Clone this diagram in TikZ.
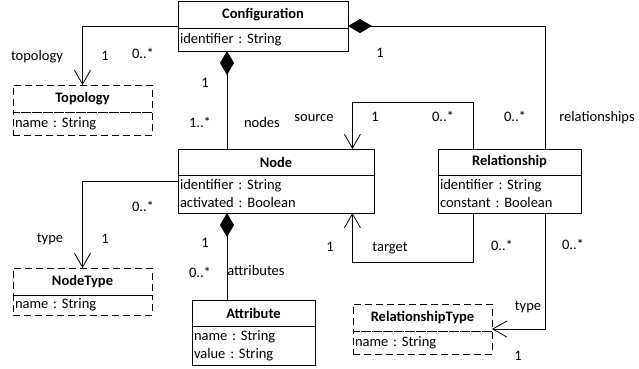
\documentclass[tikz,border=0pt]{standalone}
\usepackage{fontspec}
\setmainfont{Carlito}
\usetikzlibrary{arrows.meta,positioning,calc}

\begin{document}
\frenchspacing
\begin{tikzpicture}[x=1pt,y=-1pt,line width=0.8pt,outer sep=0pt,
    font=\fontsize{14.5}{18}\selectfont,
    title/.style={draw,anchor=north west,minimum height=27pt,inner sep=0pt,
        font=\fontsize{14.5}{18}\selectfont\bfseries},
    attrs/.style={draw,inner xsep=2pt,inner ysep=0pt,align=left},
    ghost/.style={dash pattern=on 7pt off 4pt},
    owns/.style={{Diamond[length=24pt,width=14pt]}-},
    refs/.style={-{Straight Barb[length=14pt,width=16pt]}},
    lbl/.style={anchor=base,inner sep=0pt}]
\useasboundingbox (0,0) rectangle (639,368);
%classes
\node[title,minimum width=170pt] (config) at (178,1) {Configuration};
\node[attrs,text width=166pt,minimum height=23pt,below=0pt of config] (configattr) {identifier : String};
\node[title,ghost,minimum width=139pt] (topology) at (13,85) {Topology};
\node[attrs,ghost,text width=135pt,minimum height=23pt,below=0pt of topology] (topologyattr) {name : String};
\node[title,minimum width=196pt,minimum height=26pt] (nodeclass) at (178,149) {Node};
\node[attrs,text width=192pt,minimum height=38pt,below=0pt of nodeclass] (nodeattr) {identifier : String\\activated : Boolean};
\node[title,minimum width=143pt,minimum height=26pt] (relship) at (438,149) {Relationship};
\node[attrs,text width=139pt,minimum height=38pt,below=0pt of relship] (relattr) {identifier : String\\constant : Boolean};
\node[title,ghost,minimum width=139pt] (nodetype) at (13,268) {NodeType};
\node[attrs,ghost,text width=135pt,minimum height=20pt,below=0pt of nodetype] (nodetypeattr) {name : String};
\node[title,minimum width=123pt,minimum height=26pt] (attribute) at (192,300) {Attribute};
\node[attrs,text width=119pt,minimum height=39pt,below=0pt of attribute] (attributeattr) {name : String\\value : String};
\node[title,ghost,minimum width=139pt] (reltype) at (353,304) {RelationshipType};
\node[attrs,ghost,text width=135pt,minimum height=23pt,below=0pt of reltype] (reltypeattr) {name : String};
%attachment points
\coordinate (nodetop) at ($(nodeclass.north west)!.25!(nodeclass.north east)$);
\coordinate (nodebot) at ($(nodeattr.south west)!.25!(nodeattr.south east)$);
\coordinate (nodesrc) at ($(nodeclass.north west)!.89!(nodeclass.north east)$);
\coordinate (nodetgt) at ($(nodeattr.south west)!.89!(nodeattr.south east)$);
\coordinate (relsrc) at ($(relship.north west)!.25!(relship.north east)$);
\coordinate (reltop) at ($(relship.north west)!.75!(relship.north east)$);
\coordinate (reltgt) at ($(relattr.south west)!.25!(relattr.south east)$);
\coordinate (relbot) at ($(relattr.south west)!.75!(relattr.south east)$);
%associations
\draw[refs] ($(config.north west)!.5!(configattr.south west)$) -| (topology.north);
\draw[owns] ($(config.north east)!.5!(configattr.south east)$) -| (reltop);
\draw[owns] (nodetop |- configattr.south) -- (nodetop);
\draw[owns] (nodebot) -- (nodebot |- attribute.north);
\draw[refs] (relsrc) -- ++(0,-47) -| (nodesrc);
\draw[refs] (reltgt) -- ++(0,49) -| (nodetgt);
\draw[refs] ($(nodeclass.north west)!.5!(nodeattr.south west)$) -| (nodetype.north);
\draw[refs] (relbot) |- ($(reltype.north east)!.5!(reltypeattr.south east)$);
%role names and multiplicities
\node[lbl] (lbltopology) at (37,60) {topology};
\node[lbl] (lbltopoone) at (105,60) {1};
\node[lbl] (lbltopomany) at (143,58) {0..*};
\node[lbl] (lblnodesone) at (205,87) {1};
\node[lbl] (lblnodesmany) at (200,127) {1..*};
\node[lbl] (lblnodes) at (262,127) {nodes};
\node[lbl] (lblsource) at (314,121) {source};
\node[lbl] (lblsrcone) at (375,121) {1};
\node[lbl] (lblsrcmany) at (443,121) {0..*};
\node[lbl] (lblrelsone) at (380,57) {1};
\node[lbl] (lblrelsmany) at (515,121) {0..*};
\node[lbl] (lblrels) at (597,121) {relationships};
\node[lbl] (lblntmany) at (143,211) {0..*};
\node[lbl] (lblnttype) at (50,242) {type};
\node[lbl] (lblntone) at (105,243) {1};
\node[lbl] (lblattrone) at (205,247) {1};
\node[lbl] (lblattrmany) at (200,277) {0..*};
\node[lbl] (lblattrs) at (256,275) {attributes};
\node[lbl] (lbltgtone) at (330,251) {1};
\node[lbl] (lbltarget) at (390,251) {target};
\node[lbl] (lbltgtmany) at (502,250) {0..*};
\node[lbl] (lblrtmany) at (573,249) {0..*};
\node[lbl] (lblrttype) at (528,310) {type};
\node[lbl] (lblrtone) at (518,360) {1};
\end{tikzpicture}
\end{document}
